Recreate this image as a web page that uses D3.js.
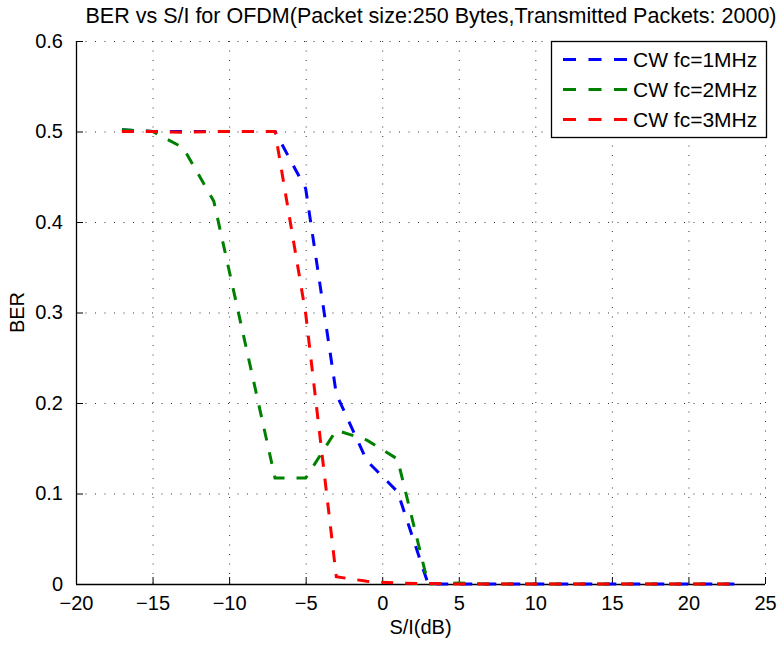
<!DOCTYPE html>
<html>
<head>
<meta charset="utf-8">
<script src="https://cdn.jsdelivr.net/npm/d3@7"></script>
<style>
  html, body { margin: 0; padding: 0; background: #fff; }
  text { font-family: "Liberation Sans", Arial, Helvetica, sans-serif; fill: #000; }
</style>
</head>
<body>
<svg id="chart" width="782" height="646"></svg>
<script>
const snr = [-17, -15, -13, -11, -9, -7, -5, -3, -1, 1, 3, 5, 7, 9, 11, 13, 15, 17, 19, 21, 23];
const berFc1 = [0.502, 0.500, 0.500, 0.500, 0.500, 0.500, 0.437, 0.210, 0.136, 0.102, 0, 0, 0, 0, 0, 0, 0, 0, 0, 0, 0];
const berFc2 = [0.502, 0.500, 0.482, 0.423, 0.270, 0.117, 0.117, 0.170, 0.159, 0.138, 0, 0.001, 0, 0, 0, 0, 0, 0, 0, 0, 0];
const berFc3 = [0.500, 0.500, 0.499, 0.500, 0.500, 0.500, 0.299, 0.008, 0.003, 0.001, 0.0005, 0, 0, 0, 0, 0, 0, 0, 0, 0, 0];
const seriesNames = ["CW fc=1MHz", "CW fc=2MHz", "CW fc=3MHz"];
const seriesColors = ["#0000ff", "#008000", "#ff0000"];
const xTicks = [-20, -15, -10, -5, 0, 5, 10, 15, 20, 25];
const yTicks = [0, 0.1, 0.2, 0.3, 0.4, 0.5, 0.6];
const titleText = "BER vs S/I for OFDM(Packet size:250 Bytes,Transmitted Packets: 2000)";
const xLabel = "S/I(dB)";
const yLabel = "BER";

const svg = d3.select("#chart");
const L = 76, R = 765, T = 41, B = 584;
const x = d3.scaleLinear().domain([-20, 25]).range([L, R]);
const y = d3.scaleLinear().domain([0, 0.6]).range([B, T]);

// grid
const grid = svg.append("g");
grid.selectAll("line.vg").data(xTicks.slice(1)).enter().append("line")
  .attr("x1", d => x(d) + 0.5).attr("x2", d => x(d) + 0.5)
  .attr("y1", T).attr("y2", B)
  .attr("stroke", "#333").attr("stroke-width", 1).attr("stroke-dasharray", "1,8.5");
grid.selectAll("line.hg").data(yTicks.slice(1)).enter().append("line")
  .attr("x1", L).attr("x2", R)
  .attr("y1", d => y(d) + 0.5).attr("y2", d => y(d) + 0.5)
  .attr("stroke", "#333").attr("stroke-width", 1).attr("stroke-dasharray", "1,8.5");

// axes
const xAxis = d3.axisBottom(x).tickValues(xTicks).tickSize(-7).tickPadding(12)
  .tickFormat(d => d < 0 ? "\u2212" + Math.abs(d) : String(d));
const gx = svg.append("g").attr("transform", `translate(0,${B})`).call(xAxis);
const yAxis = d3.axisLeft(y).tickValues(yTicks).tickSize(-7).tickPadding(13)
  .tickFormat(d => d === 0 ? "0" : d3.format(".1f")(d));
const gy = svg.append("g").attr("transform", `translate(${L},0)`).call(yAxis);
[gx, gy].forEach(g => {
  g.select(".domain").attr("stroke", "#000").attr("stroke-width", 1.3);
  g.selectAll(".tick line").attr("stroke", "#000").attr("stroke-width", 1);
  g.selectAll(".tick text").style("font-size", "20px").style("font-family", "'Liberation Sans', Arial, sans-serif").attr("fill", "#000");
});
gx.select(".domain").attr("d", `M${L},0.5H${R}`);
gy.select(".domain").attr("d", `M0.5,${B}V${T}`);
gx.selectAll(".tick text").attr("dy", "0.71em");

// lines
const allSeries = [berFc1, berFc2, berFc3];
const line = d3.line().x((d, i) => x(snr[i])).y(d => y(d));
allSeries.forEach((vals, k) => {
  svg.append("path").datum(vals)
    .attr("d", line)
    .attr("fill", "none")
    .attr("stroke", seriesColors[k])
    .attr("stroke-width", 3)
    .attr("stroke-dasharray", "12,12");
});

// title and labels
svg.append("text").attr("x", 431).attr("y", 23).attr("text-anchor", "middle")
  .style("font-size", "21.5px").text(titleText);
svg.append("text").attr("x", (L + R) / 2).attr("y", 634).attr("text-anchor", "middle")
  .style("font-size", "20px").text(xLabel);
svg.append("text").attr("transform", `translate(24,${(T + B) / 2}) rotate(-90)`).attr("text-anchor", "middle")
  .style("font-size", "20px").text(yLabel);

// legend
const lg = svg.append("g");
lg.append("rect").attr("x", 551.5).attr("y", 41.5).attr("width", 215).attr("height", 96)
  .attr("fill", "#fff").attr("stroke", "#000").attr("stroke-width", 1.3);
seriesNames.forEach((name, k) => {
  const yy = 59.5 + k * 30;
  lg.append("line").attr("x1", 563).attr("x2", 627).attr("y1", yy).attr("y2", yy)
    .attr("stroke", seriesColors[k]).attr("stroke-width", 3).attr("stroke-dasharray", "13,12.5");
  lg.append("text").attr("x", 633).attr("y", yy + 7).style("font-size", "21px").text(name);
});
</script>
</body>
</html>
